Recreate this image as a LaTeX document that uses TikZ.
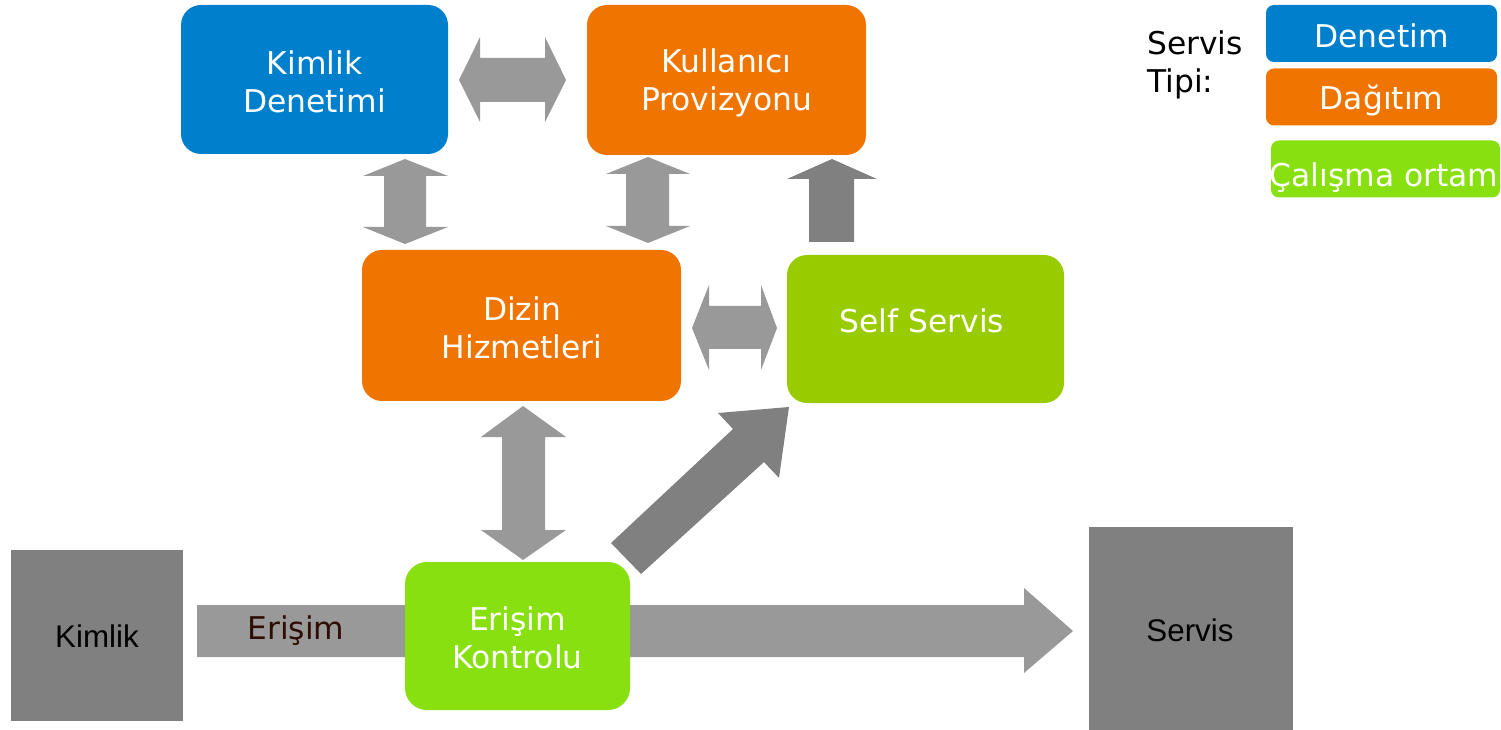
\documentclass[tikz,border=0pt]{standalone}
\usepackage{fontspec}
\setmainfont{DejaVu Sans}
\newfontfamily\arialfont{Liberation Sans}
\definecolor{denetimblue}{HTML}{0080CC}
\definecolor{dagitimorange}{HTML}{F07400}
\definecolor{selfgreen}{HTML}{99CC00}
\definecolor{ortamgreen}{HTML}{88E010}
\definecolor{lightarrow}{HTML}{999999}
\definecolor{darkarrow}{HTML}{808080}
\definecolor{graybox}{HTML}{808080}
\definecolor{labelbrown}{HTML}{2E0E02}
\tikzset{
  fatlight/.style={fill=lightarrow, draw=none},
  fatdark/.style={fill=darkarrow, draw=none},
  svc/.style={rounded corners=20*0.75pt, draw=none, inner sep=0pt},
  svctext/.style={text=white, align=center, inner sep=0pt,
    font=\fontsize{23.5}{28.5}\selectfont},
  legendbox/.style={rounded corners=8*0.75pt, draw=none, inner sep=0pt,
    minimum width=231*0.75pt, minimum height=57*0.75pt},
  endpoint/.style={fill=graybox, draw=none, inner sep=0pt},
  endtext/.style={font=\arialfont\fontsize{23.5}{28.5}\selectfont, text=black, inner sep=0pt},
}
\begin{document}
\begin{tikzpicture}[x=0.75pt, y=-0.75pt]
\useasboundingbox (0,0) rectangle (1501,730);

% block arrows between the service boxes
\fill[fatlight] (197,605) -- (1024,605) -- (1024,588) -- (1073,631) -- (1024,673) -- (1024,657) -- (197,657) -- cycle;
\fill[fatlight] (459,80) -- (480,37) -- (480,58) -- (545,58) -- (545,37) -- (566,80) -- (545,122) -- (545,102) -- (480,102) -- (480,122) -- cycle;
\fill[fatlight] (692,328) -- (709,285) -- (709,306) -- (761,306) -- (761,285) -- (777,328) -- (761,370) -- (761,349) -- (709,349) -- (709,370) -- cycle;
\fill[fatlight] (405,159) -- (448,176) -- (426,176) -- (426,227) -- (448,227) -- (405,244) -- (363,227) -- (384,227) -- (384,176) -- (363,176) -- cycle;
\fill[fatlight] (648,157) -- (690,174) -- (669,174) -- (669,226) -- (690,226) -- (648,243) -- (606,226) -- (626,226) -- (626,174) -- (606,174) -- cycle;
\fill[fatlight] (523,406) -- (566,437) -- (545,437) -- (545,530) -- (566,530) -- (523,560) -- (481,530) -- (502,530) -- (502,437) -- (481,437) -- cycle;
\fill[fatdark] (832,159) -- (877,179) -- (854,179) -- (854,242) -- (809,242) -- (809,179) -- (787,179) -- cycle;
\fill[fatdark] (611,543) -- (733,429) -- (718,413) -- (789,407) -- (779,478) -- (764,462) -- (641,574) -- cycle;

% service boxes
\node[svc, fill=denetimblue, minimum width=267*0.75pt, minimum height=149*0.75pt] (kd) at (314.5,79.5) {};
\node[svctext] (kdt) at (314.5,82) {Kimlik\\Denetimi};
\node[svc, fill=dagitimorange, minimum width=279*0.75pt, minimum height=150*0.75pt] (kp) at (726.5,80) {};
\node[svctext] (kpt) at (726.5,83) {Kullanıcı\\Provizyonu};
\node[svc, fill=dagitimorange, minimum width=319*0.75pt, minimum height=151*0.75pt] (dh) at (521.5,325.5) {};
\node[svctext] (dht) at (522,328) {Dizin\\Hizmetleri};
\node[svc, fill=selfgreen, minimum width=277*0.75pt, minimum height=148*0.75pt] (ss) at (925.5,329) {};
\node[svctext] (sst) at (922,321) {Self Servis};
\node[svc, fill=ortamgreen, rounded corners=22*0.75pt, minimum width=225*0.75pt, minimum height=148*0.75pt] (ek) at (517.5,636) {};
\node[svctext] (ekt) at (517.5,637.5) {Erişim\\Kontrolu};

% identity and service end points
\node[endpoint, minimum width=172*0.75pt, minimum height=171*0.75pt] (kim) at (97,635.5) {};
\node[endtext] (kimt) at (97,636.5) {Kimlik};
\node[endpoint, minimum width=204*0.75pt, minimum height=203*0.75pt] (srv) at (1191,628.5) {};
\node[endtext] (srvt) at (1190,630) {Servis};

% label on the access arrow
\node[font=\fontsize{23.5}{28.5}\selectfont, text=labelbrown, inner sep=0pt] (erl) at (296,631) {Erişim};

% legend
\node[font=\fontsize{23.5}{28.5}\selectfont, align=left, anchor=west, inner sep=0pt] (tipi) at (1147,64.5) {Servis\\Tipi:};
\node[legendbox, fill=denetimblue] (lgd) at (1381.5,33.5) {};
\node[svctext] (lgdt) at (1381.5,35.5) {Denetim};
\node[legendbox, fill=dagitimorange] (lgo) at (1381.5,97) {};
\node[svctext] (lgot) at (1381.5,100.5) {Dağıtım};
\node[legendbox, fill=ortamgreen, minimum width=229*0.75pt] (lgg) at (1385.5,169) {};
\node[svctext] (lggt) at (1384,177.5) {Çalışma ortam};
\end{tikzpicture}
\end{document}
